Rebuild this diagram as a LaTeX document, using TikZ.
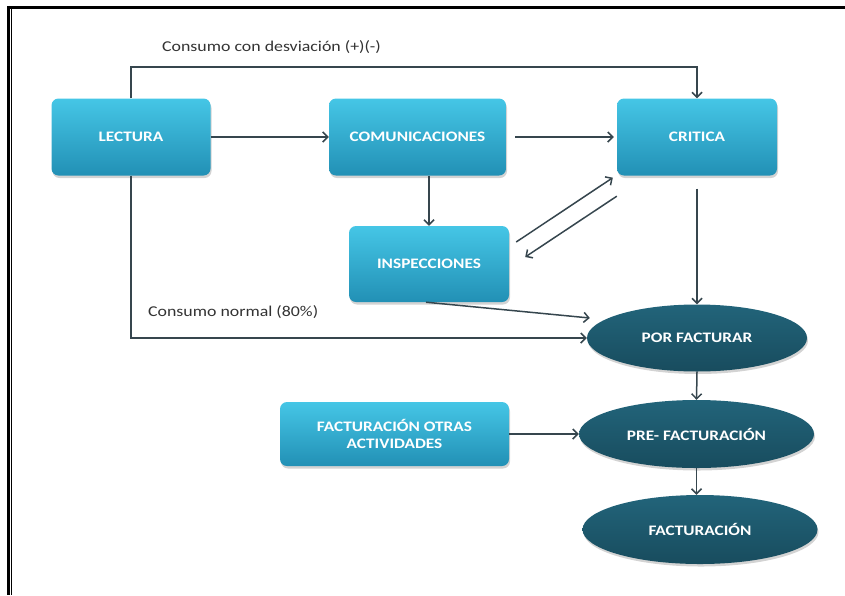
\documentclass[tikz,border=0pt]{standalone}
\usepackage{fontspec}
\setmainfont{Carlito}
\newfontfamily\lblfont[FakeStretch=1.19]{Carlito}
\usetikzlibrary{arrows.meta,shapes.geometric,shadows,calc}
\definecolor{boxtop}{HTML}{45C6E6}
\definecolor{boxbot}{HTML}{2290B5}
\definecolor{ovtop}{HTML}{22647A}
\definecolor{ovbot}{HTML}{184C5E}
\definecolor{linec}{HTML}{36464E}
\definecolor{txtc}{HTML}{333333}
\tikzset{
  box/.style={rectangle, rounded corners=7pt, top color=boxtop, bottom color=boxbot, draw=none,
    drop shadow={opacity=0.35, shadow xshift=1pt, shadow yshift=-2.5pt},
    text=white, font=\lblfont\bfseries\fontsize{14.5}{17}\selectfont, align=center, inner sep=0pt},
  oval/.style={ellipse, top color=ovtop, bottom color=ovbot, draw=none,
    drop shadow={opacity=0.35, shadow xshift=1pt, shadow yshift=-2.5pt},
    text=white, font=\lblfont\bfseries\fontsize{14.5}{17}\selectfont, align=center, inner sep=0pt},
  conn/.style={draw=linec, line width=1.5pt, -{Straight Barb[length=5pt,width=10pt,line width=1.5pt]}},
  lbl/.style={text=txtc, font=\lblfont\fontsize{15}{17}\selectfont, anchor=west, inner sep=0pt},
  frame/.style={draw=black}
}
\begin{document}
\begin{tikzpicture}[x=1pt, y=-1pt]
\useasboundingbox (0,0) rectangle (845,595);
% frame
\draw[frame, line width=3.5pt] (7.3,7.5) -- (845,7.5);
\draw[frame, line width=2.7pt] (8.7,5.8) -- (8.7,595);
\draw[frame, line width=1.2pt] (11.7,9) -- (11.7,595);

% nodes
\node[box, minimum width=159pt, minimum height=77pt] (lect) at (131,137) {LECTURA};
\node[box, minimum width=177pt, minimum height=77pt] (comun) at (417.5,137) {COMUNICACIONES};
\node[box, minimum width=160pt, minimum height=77pt] (crit) at (697,137) {CRITICA};
\node[box, minimum width=160pt, minimum height=76pt] (insp) at (429,264) {INSPECCIONES};
\node[box, minimum width=229pt, minimum height=64pt] (foa) at (394.5,434) {FACTURACIÓN OTRAS\\ACTIVIDADES};
\node[oval, minimum width=220pt, minimum height=67pt] (pf) at (697,338) {POR FACTURAR};
\node[oval, minimum width=235pt, minimum height=68pt] (pre) at (696.5,434) {PRE- FACTURACIÓN};
\node[oval, minimum width=235pt, minimum height=69pt] (fact) at (700,529.5) {FACTURACIÓN};

% labels
\node[lbl] (l1) at (162,47) {Consumo con desviación (+)(-)};
\node[lbl] (l2) at (148,312) {Consumo normal (80\%)};

% connectors
\coordinate (topr) at (697,67);
\draw[conn] (lect.north) |- (topr) -- (crit.north);
\draw[conn] (lect.east) -- (comun.west);
\draw[conn, shorten <=9pt, shorten >=3pt] (comun.east) -- (crit.west);
\draw[conn] (insp.north |- comun.south) -- (insp.north);
\draw[conn] ($(insp.east)+(7,-22)$) -- ($(crit.south west)+(-4,2)$);
\draw[conn] ($(crit.south west)+(0,20.5)$) -- ($(insp.east)+(16,-7)$);
\draw[conn, shorten <=13pt] (crit.south) -- (pf.north);
\draw[conn] ($(insp.south)+(-3,0)$) -- ($(pf.west)+(3,-20)$);
\draw[conn] (lect.south) |- (pf.west);
\draw[conn] (pf.south) -- (pre.north);
\draw[conn] (foa.east) -- (pre.west);
\draw[conn] (pre.south) -- (pre.south |- fact.north);
\end{tikzpicture}
\end{document}
